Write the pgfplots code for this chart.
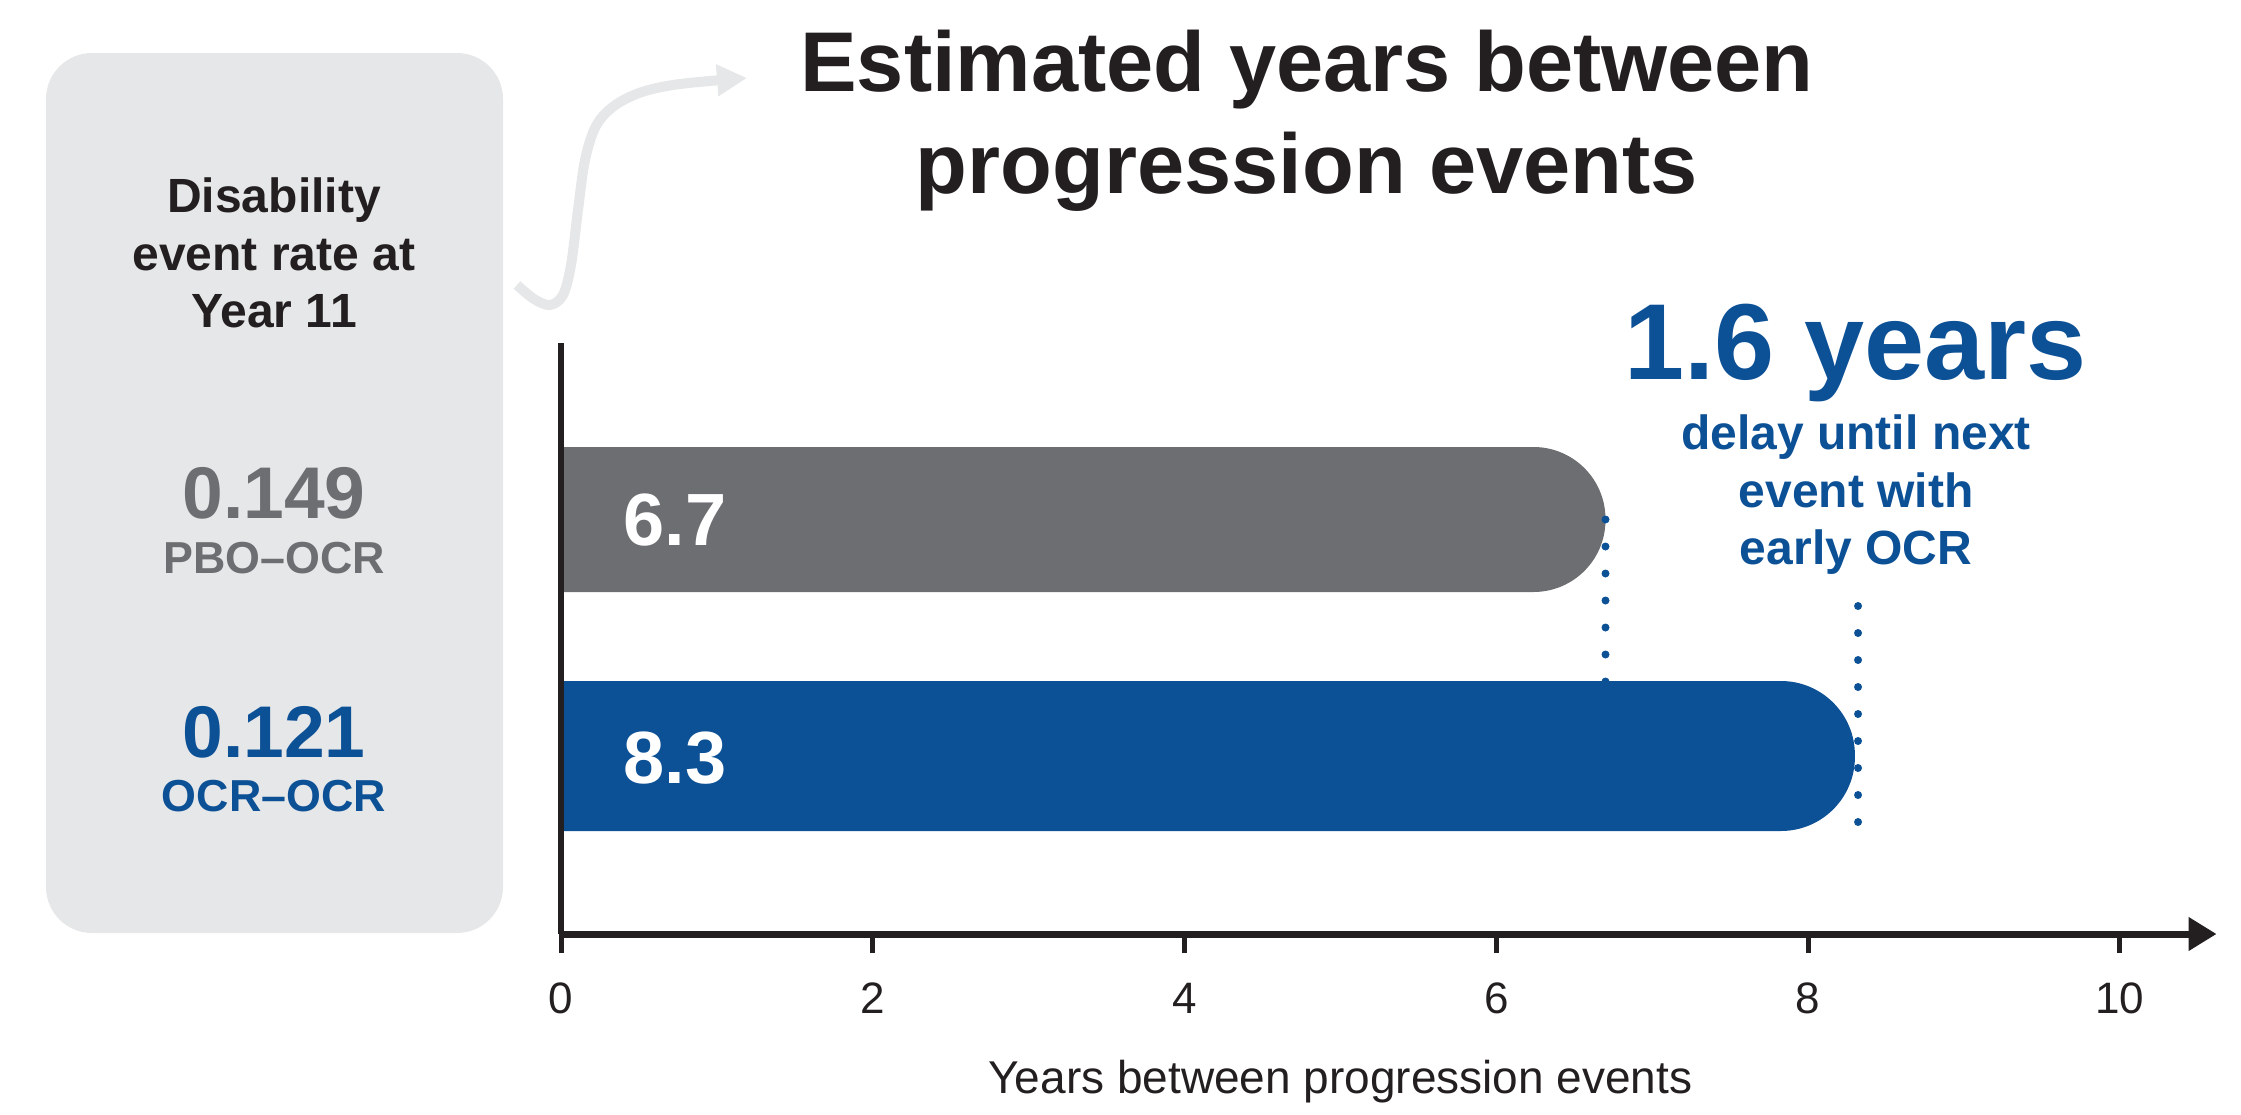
\documentclass[border=0pt]{standalone}
\usepackage{pgfplots}
\pgfplotsset{compat=1.18}
\usetikzlibrary{arrows.meta}
\usepackage{fontspec}
\setmainfont{Liberation Sans}
\definecolor{barblue}{HTML}{0C5096}
\definecolor{bargray}{HTML}{6D6E71}
\definecolor{boxgray}{HTML}{E6E7E8}
\definecolor{txtblack}{HTML}{231F20}
\begin{document}
\begin{tikzpicture}
\useasboundingbox (0,0) rectangle (560.25pt,-278.75pt);
\begin{scope}[x=0.25pt,y=-0.25pt]
% left panel
\fill[boxgray, rounded corners=11.5pt] (46,53) rectangle (503,933);
\draw[boxgray, line width=2.5pt, -{Triangle[length=7.5pt,width=7.5pt]}]
  plot[smooth, tension=0.55] coordinates {(517,285) (534,299) (550,305) (563,295) (571,265) (578,210) (585,160) (596,126) (614,106) (642,92) (680,84) (747,78)};
\begin{scope}[font=\fontsize{12}{14}\selectfont\bfseries, text=txtblack]
\node[anchor=base] at (274,212) {Disability};
\node[anchor=base] at (274,270) {event rate at};
\node[anchor=base] at (274,327) {Year 11};
\end{scope}
\node[anchor=base, text=bargray, font=\fontsize{18.3}{20}\selectfont\bfseries] at (274,518) {0.149};
\node[anchor=base, text=bargray, font=\fontsize{11.2}{13}\selectfont\bfseries] at (274,573) {PBO–OCR};
\node[anchor=base, text=barblue, font=\fontsize{18.3}{20}\selectfont\bfseries] at (274,757) {0.121};
\node[anchor=base, text=barblue, font=\fontsize{11.2}{13}\selectfont\bfseries] at (274,811) {OCR–OCR};
% title
\node[anchor=base, text=txtblack, font=\fontsize{21.2}{25}\selectfont\bfseries] at (1307,91) {Estimated years between};
\node[anchor=base, text=txtblack, font=\fontsize{21.2}{25}\selectfont\bfseries] at (1307,193) {progression events};
% right annotation
\node[anchor=base, text=barblue, font=\fontsize{27}{30}\selectfont\bfseries] at (1856,379) {1.6 years};
\begin{scope}[font=\fontsize{12}{14}\selectfont\bfseries, text=barblue]
\node[anchor=base] at (1856,449) {delay until next};
\node[anchor=base] at (1856,507) {event with};
\node[anchor=base] at (1856,564) {early OCR};
\end{scope}
\end{scope}
\begin{axis}[
  at={(140.25pt,-233.5pt)}, anchor=south west,
  scale only axis, width=413.9pt, height=147.75pt,
  xmin=0, xmax=10.62, ymin=0, ymax=5.91,
  axis x line*=bottom, axis y line*=left,
  axis on top,
  axis line style={draw=txtblack},
  x axis line style={line width=1.75pt, -{Triangle[length=7pt,width=8pt]}},
  y axis line style={line width=1.4pt, -},
  xtick={0,2,4,6,8,10}, ytick=\empty,
  tick align=outside, major tick length=4.75pt,
  x tick style={line width=1.25pt, draw=txtblack},
  /pgf/number format/assume math mode=true,
  xticklabel style={font=\fontsize{11}{13}\selectfont, text=txtblack, anchor=base, yshift=-15pt},
  xlabel={Years between progression events},
  xlabel style={font=\fontsize{11.5}{13}\selectfont, text=txtblack, at={(axis description cs:0.4708,0)}, anchor=base, yshift=-39.75pt},
]
\addplot[fill=bargray, draw=none, rounded corners=18pt] coordinates {(-1,3.42) (6.7,3.42) (6.7,4.87) (-1,4.87)};
\addplot[barblue, line width=2pt, line cap=round, dash pattern=on 0pt off 6.75pt, mark=none] coordinates {(6.7,4.145) (6.7,2.50)};
\addplot[barblue, line width=2pt, line cap=round, dash pattern=on 0pt off 6.75pt, mark=none] coordinates {(8.32,3.28) (8.32,1.02)};
\addplot[fill=barblue, draw=none, rounded corners=18.5pt] coordinates {(-1,1.03) (8.3,1.03) (8.3,2.53) (-1,2.53)};
\node[anchor=base west, text=white, font=\fontsize{18.5}{20}\selectfont\bfseries] at (axis cs:0.31,3.89) {6.7};
\node[anchor=base west, text=white, font=\fontsize{18.5}{20}\selectfont\bfseries] at (axis cs:0.31,1.51) {8.3};
\end{axis}
\end{tikzpicture}
\end{document}
